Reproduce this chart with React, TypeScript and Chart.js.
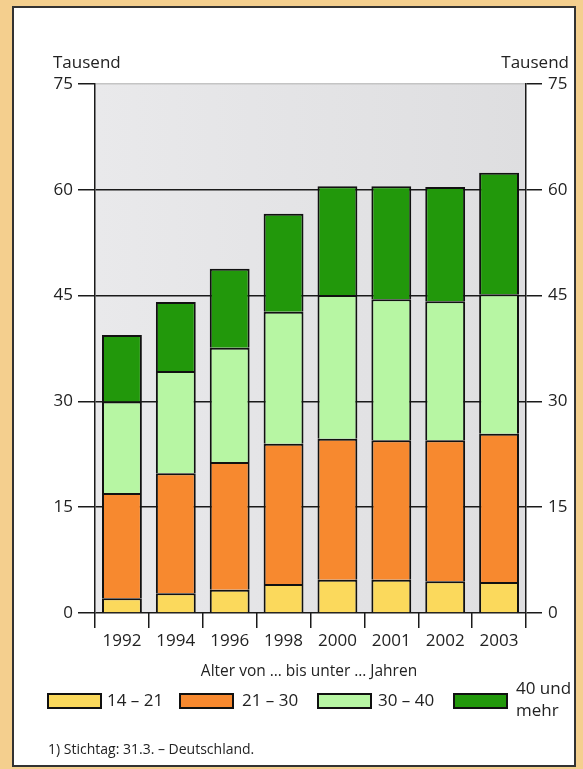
import React, { useEffect, useRef } from "react";
import { Chart, registerables } from "chart.js";

Chart.register(...registerables);

const years = ["1992", "1994", "1996", "1998", "2000", "2001", "2002", "2003"];
const age14to21 = [2.1, 2.8, 3.3, 4.1, 4.7, 4.7, 4.5, 4.4];
const age21to30 = [14.9, 17.0, 18.1, 19.9, 20.0, 19.8, 20.0, 21.0];
const age30to40 = [13.0, 14.5, 16.2, 18.7, 20.4, 20.0, 19.7, 19.8];
const age40plus = [9.4, 9.8, 11.2, 13.9, 15.4, 16.0, 16.2, 17.2];
const seriesLabels = ["14 – 21", "21 – 30", "30 – 40", "40 und mehr"];
const yMin = 0;
const yMax = 75;
const yStep = 15;

const COLORS = ["#fbd95c", "#f7892f", "#b7f6a3", "#22980b"];
const FONT = "'Open Sans', 'Noto Sans', sans-serif";
const TEXT = "#222";
const LINE = "#1a1a1a";

const plotBg = {
  id: "plotBg",
  beforeDraw(chart: any) {
    const { ctx, chartArea: a } = chart;
    ctx.save();
    const g = ctx.createLinearGradient(a.left, 0, a.right, 0);
    g.addColorStop(0, "#e9e9eb");
    g.addColorStop(1, "#dedee0");
    ctx.fillStyle = g;
    ctx.fillRect(a.left, a.top, a.right - a.left, a.bottom - a.top);
    ctx.restore();
  },
};

export default function App() {
  const ref = useRef<HTMLCanvasElement>(null);

  useEffect(() => {
    const data = [age14to21, age21to30, age30to40, age40plus];
    const chart = new Chart(ref.current as HTMLCanvasElement, {
      type: "bar",
      data: {
        labels: years,
        datasets: data.map((d, i) => ({
          label: seriesLabels[i],
          data: d,
          backgroundColor: COLORS[i],
          borderColor: "#111",
          borderWidth: 2,
          barPercentage: 0.74,
          categoryPercentage: 1,
          yAxisID: "y",
        })),
      },
      options: {
        animation: false,
        responsive: false,
        devicePixelRatio: 1,
        layout: { padding: { top: 84, left: 0, right: 0, bottom: 0 } },
        plugins: {
          legend: { display: false },
          tooltip: { enabled: false },
          title: { display: false },
        },
        scales: {
          x: {
            stacked: true,
            offset: true,
            grid: {
              offset: true,
              drawOnChartArea: false,
              color: "transparent",
              tickColor: LINE,
              tickLength: 15,
              lineWidth: 1.5,
              tickWidth: 1.5,
            },
            border: { display: false },
            ticks: {
              color: TEXT,
              font: { family: FONT, size: 17 },
              padding: 3,
              maxRotation: 0,
              autoSkip: false,
            },
            afterFit(scale: any) {
              scale.height = 156;
            },
          },
          y: {
            stacked: true,
            position: "left",
            min: yMin,
            max: yMax,
            grid: {
              color: (ctx: any) =>
                ctx.tick && ctx.tick.value === yMax ? "#c4c4c4" : LINE,
              tickColor: LINE,
              tickLength: 17,
              lineWidth: 1.5,
            },
            border: { display: true, color: LINE, width: 1.5 },
            ticks: {
              stepSize: yStep,
              color: TEXT,
              font: { family: FONT, size: 17 },
              padding: 5,
            },
            afterFit(scale: any) {
              scale.width = 95;
            },
          },
          y2: {
            display: true,
            position: "right",
            min: yMin,
            max: yMax,
            grid: {
              drawOnChartArea: false,
              color: LINE,
              tickColor: LINE,
              tickLength: 16,
              lineWidth: 1.5,
            },
            border: { display: true, color: LINE, width: 1.5 },
            ticks: {
              stepSize: yStep,
              color: TEXT,
              font: { family: FONT, size: 17 },
              padding: 6,
            },
            afterFit(scale: any) {
              scale.width = 57;
            },
          },
        },
      },
      plugins: [plotBg],
    });
    return () => chart.destroy();
  }, []);

  const legendBox = (c: string, left: number) => (
    <div
      style={{
        position: "absolute",
        left,
        top: 693,
        width: 55,
        height: 16,
        background: c,
        border: "2px solid #111",
        boxSizing: "border-box",
      }}
    />
  );
  const legendText = (t: string, left: number) => (
    <div style={{ position: "absolute", left, top: 690, fontSize: 17, lineHeight: "20px", whiteSpace: "nowrap" }}>{t}</div>
  );

  return (
    <div
      style={{
        position: "absolute",
        left: 0,
        top: 0,
        width: 583,
        height: 769,
        background: "#f4cf8e",
        overflow: "hidden",
        fontFamily: FONT,
        color: TEXT,
      }}
    >
      <div
        style={{
          position: "absolute",
          left: 12,
          top: 6,
          width: 564,
          height: 761,
          background: "#fff",
          border: "2px solid #333",
          boxSizing: "border-box",
        }}
      />
      <canvas
        ref={ref}
        width={583}
        height={769}
        style={{ position: "absolute", left: 0, top: 0, width: 583, height: 769 }}
      />
      <div style={{ position: "absolute", left: 53, top: 52, fontSize: 17, lineHeight: "20px" }}>Tausend</div>
      <div style={{ position: "absolute", right: 583 - 569, top: 52, fontSize: 17, lineHeight: "20px" }}>Tausend</div>
      <div
        style={{
          position: "absolute",
          left: 109,
          width: 400,
          top: 660,
          textAlign: "center",
          fontSize: 15.5,
          lineHeight: "20px",
          whiteSpace: "nowrap",
        }}
      >
        Alter von … bis unter … Jahren
      </div>
      {legendBox(COLORS[0], 47)}
      {legendText(seriesLabels[0], 107)}
      {legendBox(COLORS[1], 179)}
      {legendText(seriesLabels[1], 242)}
      {legendBox(COLORS[2], 317)}
      {legendText(seriesLabels[2], 378)}
      {legendBox(COLORS[3], 453)}
      <div style={{ position: "absolute", left: 516, top: 677, fontSize: 17, lineHeight: "22px" }}>
        40 und
        <br />
        mehr
      </div>
      <div style={{ position: "absolute", left: 48, top: 740, fontSize: 14, lineHeight: "17px", whiteSpace: "nowrap" }}>
        1) Stichtag: 31.3. – Deutschland.
      </div>
    </div>
  );
}
